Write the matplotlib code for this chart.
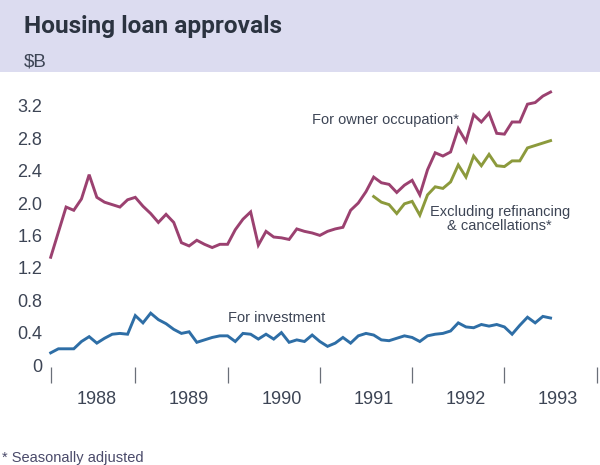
import matplotlib
matplotlib.use("Agg")
import matplotlib.pyplot as plt
from matplotlib.patches import Rectangle
import numpy as np

# ---- data (monthly, $B) ----
owner_occupation = [1.33, 1.64, 1.95, 1.91, 2.05, 2.35, 2.07, 2.01, 1.98, 1.95,
                    2.04, 2.07, 1.96, 1.87, 1.76, 1.86, 1.76, 1.51, 1.47, 1.54,
                    1.49, 1.45, 1.49, 1.49, 1.67, 1.80, 1.89, 1.48, 1.65, 1.58,
                    1.57, 1.55, 1.68, 1.65, 1.63, 1.60, 1.65, 1.68, 1.70, 1.91,
                    2.00, 2.14, 2.32, 2.25, 2.23, 2.13, 2.22, 2.28, 2.10, 2.41,
                    2.62, 2.58, 2.63, 2.92, 2.76, 3.09, 3.00, 3.11, 2.86, 2.85,
                    3.00, 3.00, 3.22, 3.24, 3.32, 3.37]
excl_refinancing = [2.08, 2.01, 1.98, 1.87, 1.99, 2.02, 1.85, 2.10, 2.20, 2.18,
                    2.26, 2.47, 2.32, 2.58, 2.46, 2.60, 2.46, 2.45, 2.52, 2.52,
                    2.68, 2.71, 2.74, 2.77]
excl_start = 42  # month index where the series begins
investment = [0.15, 0.20, 0.20, 0.20, 0.29, 0.35, 0.27, 0.33, 0.38, 0.39,
              0.38, 0.61, 0.52, 0.64, 0.56, 0.51, 0.44, 0.39, 0.41, 0.28,
              0.31, 0.34, 0.36, 0.36, 0.29, 0.39, 0.38, 0.32, 0.38, 0.32,
              0.40, 0.28, 0.31, 0.29, 0.37, 0.29, 0.23, 0.27, 0.34, 0.27,
              0.36, 0.39, 0.37, 0.31, 0.30, 0.33, 0.36, 0.34, 0.29, 0.36,
              0.38, 0.39, 0.42, 0.52, 0.47, 0.46, 0.50, 0.48, 0.50, 0.47,
              0.38, 0.49, 0.59, 0.52, 0.60, 0.58]
year_labels = ["1988", "1989", "1990", "1991", "1992", "1993"]
year_tick_pos = [0, 11, 23, 35, 47, 59, 71]
year_label_pos = [6, 18, 30, 42, 54, 66]
y_ticks = [0, 0.4, 0.8, 1.2, 1.6, 2.0, 2.4, 2.8, 3.2]
y_tick_labels = ["0", "0.4", "0.8", "1.2", "1.6", "2.0", "2.4", "2.8", "3.2"]

# ---- styles ----
c_owner = "#9b4170"
c_green = "#8c9a3c"
c_blue = "#2e6ea6"
c_band = "#dcdcf0"
c_text = "#3d4555"
c_title = "#2b3340"
fam = ["Liberation Sans", "DejaVu Sans"]

W, H = 600, 465
fig = plt.figure(figsize=(W / 100, H / 100), dpi=100)
fig.patch.set_facecolor("white")
fig.add_artist(Rectangle((0, 1 - 72 / H), 1, 72 / H, transform=fig.transFigure,
                         facecolor=c_band, edgecolor="none", zorder=0))

# axes placement (pixel based)
x0px, dxpx = 50.7, 7.69
y0px, kpx = 365.0, 81.0
xlim = (-0.9, 71.2)
ylim = (-0.03, 3.45)
left = x0px + xlim[0] * dxpx
right = x0px + xlim[1] * dxpx
top = y0px - ylim[1] * kpx
bottom = y0px - ylim[0] * kpx
ax = fig.add_axes([left / W, (H - bottom) / H, (right - left) / W, (bottom - top) / H])
ax.set_facecolor("none")
ax.set_xlim(*xlim)
ax.set_ylim(*ylim)
for s in ax.spines.values():
    s.set_visible(False)

x_owner = np.arange(len(owner_occupation))
x_excl = np.arange(excl_start, excl_start + len(excl_refinancing))
x_inv = np.arange(len(investment))
ax.plot(x_owner, owner_occupation, color=c_owner, lw=2.1, solid_joinstyle="miter")
ax.plot(x_excl, excl_refinancing, color=c_green, lw=2.1, solid_joinstyle="miter")
ax.plot(x_inv, investment, color=c_blue, lw=2.1, solid_joinstyle="miter")

ax.set_yticks(y_ticks)
ax.set_yticklabels(y_tick_labels, family=fam, fontsize=13, color=c_text)
ax.tick_params(axis="y", length=0, pad=1)

ax.set_xticks(year_tick_pos)
ax.set_xticklabels([])
ax.set_xticks(year_label_pos, minor=True)
ax.set_xticklabels(year_labels, minor=True, family=fam, fontsize=13, color=c_text)
ax.tick_params(axis="x", which="major", direction="out", length=11.5, width=0.9,
               color="#6a6f78")
ax.tick_params(axis="x", which="minor", length=0, pad=17)

ax.text(53.1, 3.02, "For owner occupation*", ha="right", va="center",
        family=fam, fontsize=10.5, color=c_text)
ax.text(58.4, 1.80, "Excluding refinancing\n& cancellations*", ha="center",
        va="center", family=fam, fontsize=10.5, color=c_text, linespacing=1.05)
ax.text(29.4, 0.58, "For investment", ha="center", va="center",
        family=fam, fontsize=10.5, color=c_text)

title = fig.text(24 / W, 1 - 33 / H, "Housing loan approvals", ha="left", va="baseline",
                 family=["Roboto", "DejaVu Sans"], fontweight="bold",
                 fontsize=17, color=c_title)
# fit title width to ~258 px
renderer = fig.canvas.get_renderer()
wpx = title.get_window_extent(renderer=renderer).width
if wpx > 0:
    title.set_fontsize(17 * 258.0 / wpx)

fig.text(24 / W, 1 - 66 / H, "$B", ha="left", va="baseline",
         family=fam, fontsize=13.5, color=c_text)
fig.text(2 / W, 1 - 458 / H, "* Seasonally adjusted", ha="left", va="center",
         family=fam, fontsize=10.5, color="#4a4a6a")

fig.savefig("out.png", dpi=100, facecolor=fig.get_facecolor())
